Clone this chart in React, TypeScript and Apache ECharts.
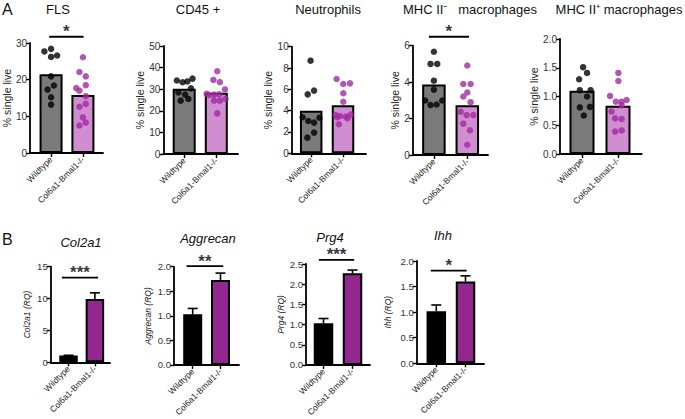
import React, { useEffect, useRef } from "react";
import * as echarts from "echarts";

const categories = ["Wildtype", "Col6a1-Bmal1-/-"];

// Panel A dots: [jitter offset in category units, value]
const flsWildtype = [[-0.21, 27.7], [0, 28.4], [0.19, 26.6], [0, 26.2], [0, 20.9], [0.09, 18.4], [-0.11, 17.3], [0, 15.2], [0, 13.2]];
const flsKnockout = [[0, 26.1], [-0.11, 22.1], [0.09, 20.9], [-0.21, 17.7], [-0.11, 17.0], [0.09, 18.5], [0.09, 15.5], [-0.11, 12.6], [0.09, 13.4], [0, 9.7], [-0.11, 7.5], [0.09, 8.3]];
const flsMeans = [21.5, 15.8];

const cd45Wildtype = [[-0.23, 34.0], [-0.05, 33.2], [0.1, 33.6], [0.26, 34.9], [-0.18, 28.5], [0.03, 27.5], [0.21, 30.4], [-0.11, 24.7], [0.13, 25.5]];
const cd45Knockout = [[0.03, 38.3], [-0.09, 34.3], [0.11, 33.3], [-0.3, 27.9], [-0.22, 27.3], [-0.07, 27.5], [0.09, 27.6], [0.27, 29.9], [-0.07, 24.7], [0.11, 24.7], [0.29, 25.6], [0.03, 18.8]];
const cd45Means = [30.2, 28.4];

const neutWildtype = [[-0.02, 8.69], [-0.11, 5.53], [0.09, 5.88], [-0.27, 3.38], [-0.09, 3.03], [0.09, 2.88], [0.26, 3.34], [0.09, 1.94], [-0.12, 1.47]];
const neutKnockout = [[-0.2, 6.97], [0.01, 6.5], [0.22, 6.56], [0.01, 5.63], [0.01, 4.84], [-0.23, 3.59], [-0.09, 3.5], [0.09, 3.44], [0.24, 3.63], [0.14, 3.28], [-0.18, 3.38], [-0.13, 2.72]];
const neutMeans = [4.0, 4.5];

const mhcNegWildtype = [[0, 5.67], [-0.1, 5.0], [0.1, 5.0], [0, 4.08], [0, 3.59], [-0.26, 2.99], [0.25, 2.99], [-0.1, 2.74], [0.08, 2.77]];
const mhcNegKnockout = [[0, 4.91], [-0.12, 3.9], [0.1, 3.9], [0, 3.43], [-0.12, 3.21], [0.1, 2.9], [-0.2, 2.37], [-0.02, 2.19], [0.18, 2.19], [-0.12, 1.72], [0.08, 1.36], [0, 0.56]];
const mhcNegMeans = [3.87, 2.73];

const mhcPosWildtype = [[0.03, 1.51], [-0.08, 1.3], [0.14, 1.41], [-0.06, 1.11], [0.24, 1.11], [0.14, 1.0], [-0.06, 0.81], [0.22, 0.82], [0.05, 0.67]];
const mhcPosKnockout = [[0.01, 1.41], [0.01, 1.27], [-0.22, 1.01], [-0.06, 0.91], [0.1, 0.91], [0.24, 0.94], [0.1, 0.85], [-0.18, 0.74], [-0.08, 0.62], [0.1, 0.61], [-0.08, 0.39], [0.1, 0.41]];
const mhcPosMeans = [1.1, 0.84];

// Panel B: means and SEM
const col2a1Means = [1.05, 9.95];
const col2a1Err = [0.05, 0.95];
const aggrecanMeans = [1.03, 1.73];
const aggrecanErr = [0.12, 0.14];
const prg4Means = [1.03, 2.27];
const prg4Err = [0.12, 0.08];
const ihhMeans = [1.02, 1.6];
const ihhErr = [0.12, 0.11];

// Significance bars: [start, end, height, label]
const flsSig = [-0.06, 1.02, 31.7, "*"];
const mhcNegSig = [-0.15, 1.05, 6.49, "*"];
const col2a1Sig = [-0.25, 1.12, 13.3, "***"];
const aggrecanSig = [-0.22, 1.1, 2.01, "**"];
const prg4Sig = [-0.16, 1.06, 2.6, "***"];
const ihhSig = [-0.19, 1.04, 1.81, "*"];

const FONT = "'Liberation Sans', Arial, Helvetica, sans-serif";

type Panel = {
  row: "A" | "B";
  title: string;
  titleX: number;
  titleY: number;
  yName: string;
  yNameGap: number;
  axisX: number;
  endX: number;
  c1: number;
  c2: number;
  yTop: number;
  y0: number;
  max: number;
  interval: number;
  decimals: number;
  barWidth: number;
  means: number[];
  errs?: number[];
  dots?: number[][][];
  sig?: (number | string)[];
};

const panels: Panel[] = [
  { row: "A", title: "FLS", titleX: 58, titleY: 9, yName: "% single live", yNameGap: 14, axisX: 26.7, endX: 103, c1: 48.7, c2: 82, yTop: 43, y0: 153, max: 30, interval: 10, decimals: 0, barWidth: 23, means: flsMeans, dots: [flsWildtype, flsKnockout], sig: flsSig },
  { row: "A", title: "CD45 +", titleX: 198, titleY: 9, yName: "% single live", yNameGap: 17, axisX: 163.3, endX: 238, c1: 184.2, c2: 216.3, yTop: 46, y0: 154, max: 50, interval: 10, decimals: 0, barWidth: 23, means: cd45Means, dots: [cd45Wildtype, cd45Knockout] },
  { row: "A", title: "Neutrophils", titleX: 328, titleY: 9, yName: "% single live", yNameGap: 15, axisX: 291.7, endX: 366, c1: 311.2, c2: 343, yTop: 46.7, y0: 153.3, max: 10, interval: 2, decimals: 0, barWidth: 22.5, means: neutMeans, dots: [neutWildtype, neutKnockout] },
  { row: "A", title: "MHC II\u207B   macrophages", titleX: 470, titleY: 9, yName: "% sinlge live", yNameGap: 12, axisX: 412.7, endX: 488, c1: 433.9, c2: 467.3, yTop: 45.7, y0: 155, max: 6, interval: 2, decimals: 0, barWidth: 23.5, means: mhcNegMeans, dots: [mhcNegWildtype, mhcNegKnockout], sig: mhcNegSig },
  { row: "A", title: "MHC II\u207A macrophages", titleX: 619, titleY: 9, yName: "% single live", yNameGap: 21, axisX: 560, endX: 641.7, c1: 582, c2: 618, yTop: 39, y0: 154, max: 2, interval: 0.5, decimals: 1, barWidth: 25, means: mhcPosMeans, dots: [mhcPosWildtype, mhcPosKnockout] },
  { row: "B", title: "Col2a1", titleX: 81, titleY: 242, yName: "Col2a1 (RQ)", yNameGap: 19, axisX: 50.7, endX: 110, c1: 68.5, c2: 94.9, yTop: 266.7, y0: 362.3, max: 15, interval: 5, decimals: 0, barWidth: 18.5, means: col2a1Means, errs: col2a1Err, sig: col2a1Sig },
  { row: "B", title: "Aggrecan", titleX: 208, titleY: 238, yName: "Aggrecan (RQ)", yNameGap: 22, axisX: 174, endX: 239, c1: 192.7, c2: 220.5, yTop: 266.7, y0: 366.7, max: 2, interval: 0.5, decimals: 1, barWidth: 19, means: aggrecanMeans, errs: aggrecanErr, sig: aggrecanSig },
  { row: "B", title: "Prg4", titleX: 330, titleY: 237, yName: "Prg4 (RQ)", yNameGap: 21, axisX: 306, endX: 370, c1: 323.5, c2: 352.5, yTop: 264, y0: 365, max: 2.5, interval: 0.5, decimals: 1, barWidth: 19.5, means: prg4Means, errs: prg4Err, sig: prg4Sig },
  { row: "B", title: "Ihh", titleX: 443, titleY: 235, yName: "Ihh (RQ)", yNameGap: 24, axisX: 416.7, endX: 484, c1: 436.3, c2: 465.5, yTop: 261, y0: 363.3, max: 2, interval: 0.5, decimals: 1, barWidth: 19.5, means: ihhMeans, errs: ihhErr, sig: ihhSig },
];

const barColorsA = ["#7a7a7a", "#d08ed0"];
const dotColorsA = ["#000000", "#a02aa0"];
const barColorsB = ["#000000", "#92278f"];

function buildOption() {
  const grid: any[] = [];
  const xAxis: any[] = [];
  const yAxis: any[] = [];
  const series: any[] = [];
  const graphic: any[] = [];

  panels.forEach((p, i) => {
    const span = p.c2 - p.c1;
    const isA = p.row === "A";
    grid.push({ left: p.axisX, top: p.yTop, width: p.endX - p.axisX, height: p.y0 - p.yTop });
    xAxis.push({
      type: "value",
      gridIndex: i,
      min: (p.axisX - p.c1) / span,
      max: (p.endX - p.c1) / span,
      splitLine: { show: false },
      axisLine: { onZero: false, lineStyle: { color: "#000", width: 1.8 } },
      axisTick: { show: true, customValues: [0, 1], length: 4, lineStyle: { color: "#000", width: 1.4 } },
      axisLabel: {
        customValues: [0, 1],
        rotate: 45,
        fontSize: 8.5,
        fontFamily: FONT,
        color: "#222",
        margin: 5,
        formatter: (v: number) => categories[Math.round(v)] ?? "",
      },
    });
    yAxis.push({
      type: "value",
      gridIndex: i,
      min: 0,
      max: p.max,
      interval: p.interval,
      splitLine: { show: false },
      axisLine: { show: true, onZero: false, lineStyle: { color: "#000", width: 1.8 } },
      axisTick: { show: true, length: 4, lineStyle: { color: "#000", width: 1.4 } },
      axisLabel: {
        fontSize: isA ? 10 : 9.5,
        fontFamily: FONT,
        color: "#333",
        margin: 3,
        formatter: (v: number) => v.toFixed(p.decimals),
      },
      name: p.yName,
      nameLocation: "middle",
      nameGap: p.yNameGap,
      nameTextStyle: {
        fontSize: isA ? 10.5 : 8.5,
        fontFamily: FONT,
        fontStyle: isA ? "normal" : "italic",
        color: "#222",
      },
    });

    const barColors = isA ? barColorsA : barColorsB;
    series.push({
      type: "bar",
      xAxisIndex: i,
      yAxisIndex: i,
      barWidth: p.barWidth,
      z: 2,
      itemStyle: { borderColor: "#000", borderWidth: 2 },
      data: p.means.map((m, k) => ({
        value: [k, m],
        itemStyle: { color: barColors[k], borderColor: "#000", borderWidth: 2 },
      })),
    });

    if (p.dots) {
      p.dots.forEach((group, k) => {
        series.push({
          type: "scatter",
          xAxisIndex: i,
          yAxisIndex: i,
          symbolSize: 6.5,
          z: 4,
          itemStyle: { color: dotColorsA[k] },
          data: group.map(([dx, v]) => [k + dx, v]),
        });
      });
    }

    if (p.errs) {
      series.push({
        type: "custom",
        xAxisIndex: i,
        yAxisIndex: i,
        z: 3,
        clip: false,
        data: p.means.map((m, k) => [k, m, p.errs![k]]),
        encode: { x: 0, y: 1 },
        renderItem: (params: any, api: any) => {
          const x = api.value(0);
          const m = api.value(1);
          const e = api.value(2);
          const base = api.coord([x, m]);
          const top = api.coord([x, m + e]);
          const cap = 5;
          return {
            type: "group",
            children: [
              { type: "line", shape: { x1: base[0], y1: base[1], x2: top[0], y2: top[1] }, style: { stroke: "#000", lineWidth: 1.6 } },
              { type: "line", shape: { x1: top[0] - cap, y1: top[1], x2: top[0] + cap, y2: top[1] }, style: { stroke: "#000", lineWidth: 1.6 } },
            ],
          };
        },
      });
    }

    if (p.sig) {
      const [x0, x1, h, label] = p.sig as [number, number, number, string];
      series.push({
        type: "line",
        xAxisIndex: i,
        yAxisIndex: i,
        clip: false,
        showSymbol: false,
        symbol: "none",
        z: 5,
        lineStyle: { color: "#000", width: 1.8 },
        data: [[x0, h], [x1, h]],
      });
      series.push({
        type: "scatter",
        xAxisIndex: i,
        yAxisIndex: i,
        clip: false,
        symbolSize: 1,
        itemStyle: { color: "rgba(0,0,0,0)" },
        z: 5,
        label: {
          show: true,
          position: "top",
          distance: -4,
          formatter: label,
          fontSize: 17,
          fontWeight: "bold",
          fontFamily: FONT,
          color: "#000",
        },
        data: [[(x0 + x1) / 2, h]],
      });
    }

    graphic.push({
      type: "text",
      x: p.titleX,
      y: p.titleY,
      style: {
        text: p.title,
        fontSize: 13,
        fontFamily: FONT,
        fontStyle: isA ? "normal" : "italic",
        fill: "#111",
        align: "center",
        verticalAlign: "middle",
      },
    });
  });

  graphic.push({ type: "text", x: 2, y: 9, style: { text: "A", fontSize: 16, fontFamily: FONT, fill: "#111", verticalAlign: "middle" } });
  graphic.push({ type: "text", x: 2, y: 239, style: { text: "B", fontSize: 16, fontFamily: FONT, fill: "#111", verticalAlign: "middle" } });

  return {
    animation: false,
    backgroundColor: "#ffffff",
    grid,
    xAxis,
    yAxis,
    series,
    graphic,
  };
}

export default function App() {
  const ref = useRef<HTMLDivElement>(null);
  useEffect(() => {
    if (!ref.current) return;
    const chart = echarts.init(ref.current, undefined, { renderer: "svg" });
    chart.setOption(buildOption() as any);
    return () => chart.dispose();
  }, []);
  return (
    <div
      ref={ref}
      style={{ position: "fixed", left: 0, top: 0, width: 685, height: 419, background: "#fff" }}
    />
  );
}
